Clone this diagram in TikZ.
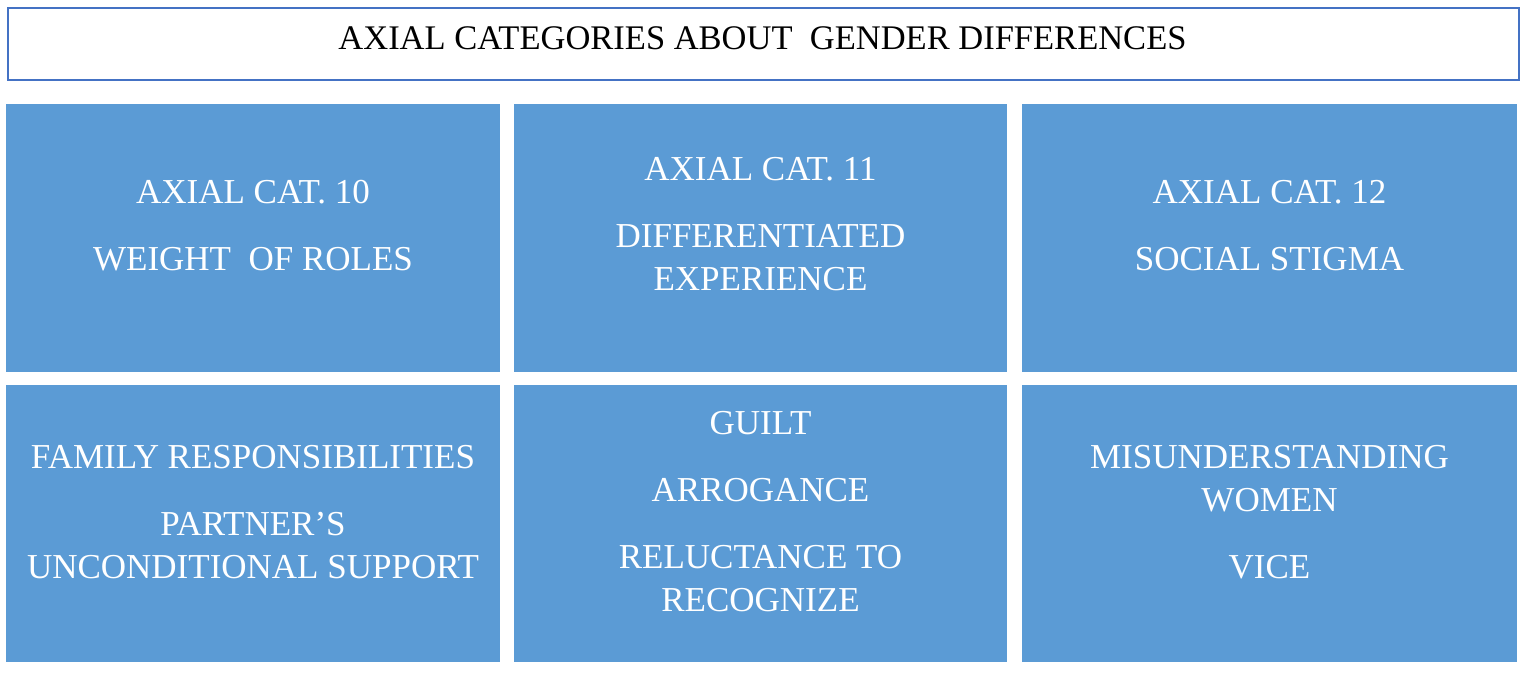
\documentclass[tikz,border=0pt]{standalone}
\usepackage{fontspec}
\setmainfont{Liberation Serif}
\definecolor{boxblue}{HTML}{5B9BD5}
\definecolor{edgeblue}{HTML}{4472C4}
\begin{document}
\begin{tikzpicture}[x=1pt,y=-1pt,
  cell/.style={fill=boxblue, draw=none, inner sep=0pt, anchor=north west},
  titlebox/.style={draw=edgeblue, line width=2.2pt, fill=white, inner sep=0pt, anchor=north west},
  txt/.style={text=white, align=center, inner sep=0pt, anchor=base, font=\fontsize{35}{43.5}\selectfont},
  titletxt/.style={text=black, inner sep=0pt, anchor=base, font=\fontsize{34.5}{40}\selectfont},
]
\useasboundingbox (0,0) rectangle (1535,673);
\fill[white] (0,0) rectangle (1535,673);
% title
\node[titlebox, minimum width=1511pt, minimum height=72pt] (title) at (7,7) {};
\node[titletxt] (titlet) at (762.5,49.5) {AXIAL CATEGORIES ABOUT\ \ GENDER DIFFERENCES};
% boxes
\node[cell, minimum width=494pt, minimum height=268pt] (b1) at (6,104) {};
\node[cell, minimum width=493pt, minimum height=268pt] (b2) at (514,104) {};
\node[cell, minimum width=495pt, minimum height=268pt] (b3) at (1022,104) {};
\node[cell, minimum width=494pt, minimum height=277pt] (b4) at (6,385) {};
\node[cell, minimum width=493pt, minimum height=277pt] (b5) at (514,385) {};
\node[cell, minimum width=495pt, minimum height=277pt] (b6) at (1022,385) {};
% texts (anchored at the baseline of the last line)
\node[txt] (t1) at (253,270) {AXIAL CAT. 10\\[23.5pt]WEIGHT\ \ OF ROLES};
\node[txt] (t2) at (760.5,290.5) {AXIAL CAT. 11\\[23.5pt]DIFFERENTIATED\\EXPERIENCE};
\node[txt] (t3) at (1269.5,270) {AXIAL CAT. 12\\[23.5pt]SOCIAL STIGMA};
\node[txt] (t4) at (253,578.5) {FAMILY RESPONSIBILITIES\\[23.5pt]PARTNER’S\\UNCONDITIONAL SUPPORT};
\node[txt] (t5) at (760.5,611.5) {GUILT\\[23.5pt]ARROGANCE\\[23.5pt]RELUCTANCE TO\\RECOGNIZE};
\node[txt] (t6) at (1269.5,578.5) {MISUNDERSTANDING\\WOMEN\\[23.5pt]VICE};
\end{tikzpicture}
\end{document}
